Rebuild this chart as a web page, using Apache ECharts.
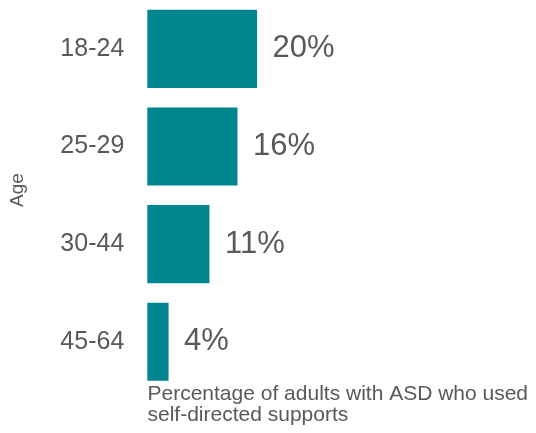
<!DOCTYPE html>
<html>
<head>
<meta charset="utf-8">
<script src="https://cdn.jsdelivr.net/npm/echarts@6/dist/echarts.min.js"></script>
<style>
html,body{margin:0;padding:0;background:#fff;}
#chart{width:536px;height:433px;}
</style>
</head>
<body>
<div id="chart"></div>
<script>
var categories = ["18-24", "25-29", "30-44", "45-64"];
var values = [19.6, 16.1, 11.1, 3.8];
var yAxisTitle = "Age";
var xAxisTitle = "Percentage of adults with ASD who used\nself-directed supports";

var FONT = "'Liberation Sans', Arial, sans-serif";
var GREY = "#595959";
var chart = echarts.init(document.getElementById('chart'), null, {renderer: 'canvas'});
chart.setOption({
  animation: false,
  backgroundColor: '#ffffff',
  grid: {left: 147.3, top: -1.4, width: 168, height: 392, containLabel: false},
  xAxis: {
    type: 'value', min: 0, max: 30,
    axisLine: {show: false}, axisTick: {show: false},
    axisLabel: {show: false}, splitLine: {show: false}
  },
  yAxis: {
    type: 'category', data: categories, inverse: true,
    axisLine: {show: false}, axisTick: {show: false}, splitLine: {show: false},
    axisLabel: {color: GREY, fontSize: 25, fontFamily: FONT, margin: 23}
  },
  series: [{
    type: 'bar',
    data: values,
    barCategoryGap: '20%',
    itemStyle: {color: '#00868F'},
    label: {
      show: true, position: 'right', distance: 15.5,
      color: GREY, fontSize: 31, fontFamily: FONT,
      formatter: function (p) { return Math.round(p.value) + '%'; }
    }
  }],
  graphic: [
    {
      type: 'text', left: 147.5, top: 384.2,
      style: {text: xAxisTitle, fill: GREY, fontSize: 21, lineHeight: 21, fontFamily: FONT}
    },
    {
      type: 'text', rotation: Math.PI / 2, x: 8, y: 190,
      style: {text: yAxisTitle, fill: GREY, fontSize: 19, fontFamily: FONT,
              align: 'center', verticalAlign: 'top'}
    }
  ]
});
</script>
</body>
</html>
